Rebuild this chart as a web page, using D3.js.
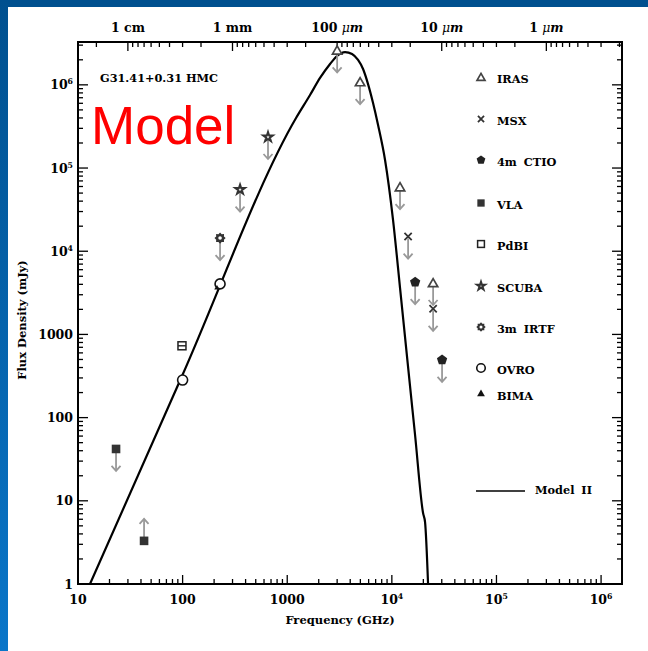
<!DOCTYPE html>
<html><head><meta charset="utf-8">
<script src="https://cdn.jsdelivr.net/npm/d3@7"></script>
<style>
html,body{margin:0;padding:0;background:#fff;}
svg{display:block;}
text{font-family:"DejaVu Serif",serif;font-weight:bold;fill:#000;}
</style></head>
<body>
<svg id="c" width="648" height="651"></svg>
<script>
// ---------------- data ----------------
// model SED (Model II): frequency (GHz) and flux density (mJy)
const curveFreq = [13.02, 98.7, 1214, 1652, 2059, 2566, 2992, 3569, 4165, 4753, 5306, 5923, 6612, 7383, 8610, 10270, 11980, 13980, 16670, 19880, 20770, 22190];
const curveFlux = [1, 316, 3.99e5, 7.54e5, 1.21e6, 1.78e6, 2.22e6, 2.48e6, 2.35e6, 1.99e6, 1.55e6, 1.02e6, 6.04e5, 3.29e5, 1.25e5, 2.37e4, 3610, 535, 61.8, 7.13, 5.56, 1];

// observations: instrument, frequency (GHz), flux (mJy), limit type
const obsInstrument = ["IRAS","IRAS","IRAS","IRAS","MSX","MSX","4m CTIO","4m CTIO","VLA","VLA","PdBI","SCUBA","SCUBA","3m IRTF","OVRO","OVRO","BIMA"];
const obsFreq       = [3000, 4970, 11970, 24800, 14300, 24800, 16700, 30200, 23.1, 42.8, 98.6, 354, 655, 228, 100, 228, 213];
const obsFlux       = [2.6e6, 1.08e6, 5.9e4, 4150, 1.5e4, 2030, 4260, 494, 42, 3.3, 730, 5.5e4, 2.36e5, 1.44e4, 283, 4050, 3610];
const obsLimit      = ["upper","upper","upper","upper","upper","upper","upper","upper","upper","lower","none","upper","upper","upper","none","none","none"];

const legendNames = ["IRAS","MSX","4m CTIO","VLA","PdBI","SCUBA","3m IRTF","OVRO","BIMA"];

const xTickValues = [10, 100, 1000, 1e4, 1e5, 1e6];
const xTickLabels = ["10","100","1000","10|4","10|5","10|6"];
const yTickValues = [1, 10, 100, 1000, 1e4, 1e5, 1e6];
const yTickLabels = ["1","10","100","1000","10|4","10|5","10|6"];
// top axis: wavelength labels
const topLabelFreq = [30, 300, 3000, 30000, 300000];
const topLabels = ["1 cm","1 mm","100 |μm","10 |μm","1 |μm"];

// ---------------- layout ----------------
const svg = d3.select("#c");
const L = 78, R = 622, T = 42, B = 584;
const x = d3.scaleLog().domain([10, Math.pow(10, 6.2)]).range([L, R]);
const y = d3.scaleLog().domain([1, Math.pow(10, 6.515)]).range([B, T]);

// blue frame
const defs = svg.append("defs");
const g1 = defs.append("linearGradient").attr("id","lg").attr("x1",0).attr("y1",0).attr("x2",0).attr("y2",1);
g1.append("stop").attr("offset","0%").attr("stop-color","#00508f");
g1.append("stop").attr("offset","100%").attr("stop-color","#0a76c9");
svg.append("rect").attr("x",0).attr("y",0).attr("width",648).attr("height",651).attr("fill","#fff");
svg.append("rect").attr("x",0).attr("y",0).attr("width",648).attr("height",7).attr("fill","#00508f");
svg.append("rect").attr("x",0).attr("y",0).attr("width",8).attr("height",651).attr("fill","url(#lg)");

defs.append("clipPath").attr("id","clip").append("rect").attr("x",L).attr("y",T).attr("width",R-L).attr("height",B-T);

function logMinor(lo, hi) {
  const out = [];
  for (let e = Math.floor(Math.log10(lo)) - 1; e <= Math.ceil(Math.log10(hi)); e++) {
    for (let k = 1; k <= 9; k++) {
      const v = k * Math.pow(10, e);
      if (v >= lo * 0.9999 && v <= hi * 1.0001) out.push({v, major: k === 1});
    }
  }
  return out;
}
const axG = svg.append("g").attr("stroke","#000").attr("fill","none");
logMinor(10, x.domain()[1]).forEach(t => {
  const px = x(t.v);
  axG.append("line").attr("x1",px).attr("x2",px).attr("y1",B).attr("y2",B-(t.major?9:5)).attr("stroke-width",1.3);
});
const lamLo = 299.79 / x.domain()[1], lamHi = 299.79 / 10;
logMinor(lamLo, lamHi).forEach(t => {
  const px = x(299.79 / t.v);
  if (px < L - 0.5 || px > R + 0.5) return;
  axG.append("line").attr("x1",px).attr("x2",px).attr("y1",T).attr("y2",T+(t.major?9:5)).attr("stroke-width",1.3);
});
logMinor(1, y.domain()[1]).forEach(t => {
  const py = y(t.v);
  axG.append("line").attr("x1",L).attr("x2",L+(t.major?10:5)).attr("y1",py).attr("y2",py).attr("stroke-width",1.3);
  axG.append("line").attr("x1",R).attr("x2",R-(t.major?10:5)).attr("y1",py).attr("y2",py).attr("stroke-width",1.3);
});
svg.append("rect").attr("x",L).attr("y",T).attr("width",R-L).attr("height",B-T)
  .attr("fill","none").attr("stroke","#000").attr("stroke-width",2);

function labelText(sel, s) {
  const parts = s.split("|");
  sel.append("tspan").text(parts[0]);
  if (parts.length > 1) sel.append("tspan").attr("dy",-5).attr("font-size","0.62em").text(parts[1]);
}
xTickValues.forEach((v,i) => {
  const t = svg.append("text").attr("x", x(v)).attr("y", 604).attr("text-anchor","middle").attr("font-size",12.5);
  labelText(t, xTickLabels[i]);
});
yTickValues.forEach((v,i) => {
  const t = svg.append("text").attr("x", 73).attr("y", y(v)+4.5).attr("text-anchor","end").attr("font-size",12.5);
  labelText(t, yTickLabels[i]);
});
topLabelFreq.forEach((f,i) => {
  const parts = topLabels[i].split("|");
  const t = svg.append("text").attr("x", x(f)).attr("y", 32).attr("text-anchor","middle").attr("font-size",12.5);
  t.append("tspan").text(parts[0]);
  if (parts.length > 1) t.append("tspan").attr("font-style","italic").attr("font-weight","normal").text(parts[1].slice(0,1)).append("tspan");
  if (parts.length > 1) t.append("tspan").attr("font-style","italic").text(parts[1].slice(1));
});
svg.append("text").attr("x", 340).attr("y", 624).attr("text-anchor","middle").attr("font-size",11.5).text("Frequency (GHz)");
svg.append("text").attr("transform","translate(26,320) rotate(-90)").attr("text-anchor","middle").attr("font-size",11.5).text("Flux Density (mJy)");

svg.append("text").attr("x",100).attr("y",82).attr("font-size",11.3).text("G31.41+0.31 HMC");
svg.append("text").attr("x",91).attr("y",144).attr("font-size",53)
  .style("font-family","'Liberation Sans',Arial,sans-serif").style("font-weight","normal").style("fill","#ff0000").text("Model");

// model curve
const line = d3.line().x(d => x(d[0])).y(d => y(d[1])).curve(d3.curveMonotoneX);
svg.append("path").attr("clip-path","url(#clip)")
  .datum(curveFreq.map((f,i) => [f, curveFlux[i]]))
  .attr("d", line).attr("fill","none").attr("stroke","#000").attr("stroke-width",2.2);

function pentagon(r) {
  const pts = d3.range(5).map(i => { const a = -Math.PI/2 + i*2*Math.PI/5; return [r*Math.cos(a), r*Math.sin(a)]; });
  return "M" + pts.map(p => p.join(",")).join("L") + "Z";
}
function gear(r1, r2, n) {
  const pts = [];
  for (let i = 0; i < 2*n; i++) { const a = i*Math.PI/n; const r = i%2 ? r2 : r1; pts.push([r*Math.cos(a), r*Math.sin(a)]); }
  return "M" + pts.map(p => p.join(",")).join("L") + "Z";
}
function drawSymbol(g, name, s) {
  switch (name) {
    case "IRAS":
      g.append("path").attr("d", d3.symbol(d3.symbolTriangle, 38*s*s)()).attr("transform","translate(0,1)")
        .attr("fill","#fff").attr("stroke","#444").attr("stroke-width",1.7); break;
    case "MSX":
      g.append("path").attr("d", d3.symbol(d3.symbolX, 36*s*s)()).attr("fill","none").attr("stroke","#333").attr("stroke-width",1.8); break;
    case "4m CTIO":
      g.append("path").attr("d", pentagon(5.4*s)).attr("fill","#222"); break;
    case "VLA":
      g.append("rect").attr("x",-4.3*s).attr("y",-4.3*s).attr("width",8.6*s).attr("height",8.6*s).attr("fill","#333"); break;
    case "PdBI":
      g.append("rect").attr("x",-4*s).attr("y",-4*s).attr("width",8*s).attr("height",8*s).attr("fill","#fff").attr("stroke","#222").attr("stroke-width",1.5); break;
    case "SCUBA":
      g.append("path").attr("d", d3.symbol(d3.symbolStar, 28*s*s)()).attr("fill","#fff").attr("stroke","#333").attr("stroke-width",2); break;
    case "3m IRTF":
      g.append("path").attr("d", gear(5.6*s, 4.2*s, 8)).attr("fill","#333");
      g.append("circle").attr("r",1.8*s).attr("fill","#fff"); break;
    case "OVRO":
      g.append("circle").attr("r",5*s).attr("fill","#fff").attr("stroke","#111").attr("stroke-width",1.6); break;
    case "BIMA":
      g.append("path").attr("d", d3.symbol(d3.symbolTriangle, 36*s*s)()).attr("fill","#111"); break;
  }
}

const obsG = svg.append("g");
obsInstrument.forEach((inst,i) => {
  const px = x(obsFreq[i]), py = y(obsFlux[i]);
  const lim = obsLimit[i];
  if (lim !== "none") {
    const dir = lim === "upper" ? 1 : -1;
    const y0 = py + dir*2, y1 = py + dir*22;
    obsG.append("line").attr("x1",px).attr("x2",px).attr("y1",y0).attr("y2",y1).attr("stroke","#999").attr("stroke-width",1.8);
    obsG.append("path").attr("d",`M${px-4.5},${y1-dir*5}L${px},${y1}L${px+4.5},${y1-dir*5}`)
      .attr("fill","none").attr("stroke","#999").attr("stroke-width",1.8);
  }
  const g = obsG.append("g").attr("transform",`translate(${px},${py})`);
  drawSymbol(g, inst, inst === "BIMA" ? 0.6 : 1);
  if (inst === "PdBI") g.append("line").attr("x1",-4).attr("x2",4).attr("y1",0).attr("y2",0).attr("stroke","#222").attr("stroke-width",1.4);
});

const legY = [79, 121, 162, 205, 246, 288, 329, 370, 396];
legendNames.forEach((n,i) => {
  const g = svg.append("g").attr("transform",`translate(481,${legY[i]-2})`);
  drawSymbol(g, n, 0.85);
  svg.append("text").attr("x",497).attr("y",legY[i]+4).attr("font-size",11.3).attr("word-spacing",3).text(n);
});
svg.append("line").attr("x1",476).attr("x2",525).attr("y1",491).attr("y2",491).attr("stroke","#000").attr("stroke-width",1.4);
svg.append("text").attr("x",535).attr("y",494).attr("font-size",11.3).attr("word-spacing",3).text("Model II");
</script>
</body></html>
